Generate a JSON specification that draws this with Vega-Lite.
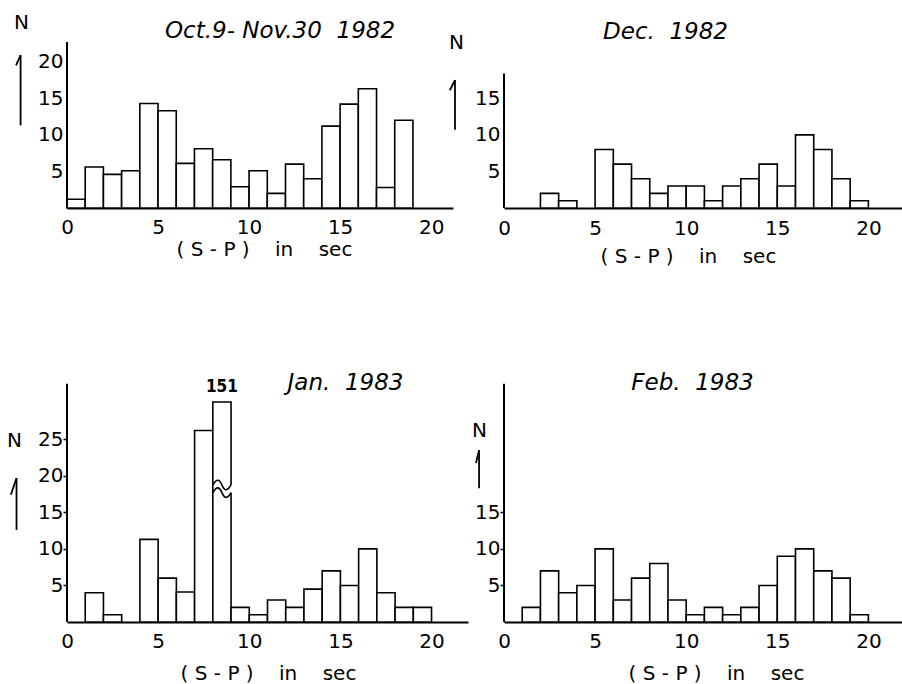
{
  "$schema": "https://vega.github.io/schema/vega-lite/v6.json",
  "background": "white",
  "padding": {"left": 6, "top": 12, "right": 2, "bottom": 2},
  "datasets": {
    "p1": [
      {"lo": 0, "hi": 1, "n": 1.2}, {"lo": 1, "hi": 2, "n": 5.6}, {"lo": 2, "hi": 3, "n": 4.6},
      {"lo": 3, "hi": 4, "n": 5.1}, {"lo": 4, "hi": 5, "n": 14.3}, {"lo": 5, "hi": 6, "n": 13.3},
      {"lo": 6, "hi": 7, "n": 6.1}, {"lo": 7, "hi": 8, "n": 8.1}, {"lo": 8, "hi": 9, "n": 6.6},
      {"lo": 9, "hi": 10, "n": 2.9}, {"lo": 10, "hi": 11, "n": 5.1}, {"lo": 11, "hi": 12, "n": 2.0},
      {"lo": 12, "hi": 13, "n": 6.0}, {"lo": 13, "hi": 14, "n": 4.0}, {"lo": 14, "hi": 15, "n": 11.2},
      {"lo": 15, "hi": 16, "n": 14.2}, {"lo": 16, "hi": 17, "n": 16.3}, {"lo": 17, "hi": 18, "n": 2.8},
      {"lo": 18, "hi": 19, "n": 12.0}
    ],
    "p2": [
      {"lo": 2, "hi": 3, "n": 2}, {"lo": 3, "hi": 4, "n": 1}, {"lo": 5, "hi": 6, "n": 8},
      {"lo": 6, "hi": 7, "n": 6}, {"lo": 7, "hi": 8, "n": 4}, {"lo": 8, "hi": 9, "n": 2},
      {"lo": 9, "hi": 10, "n": 3}, {"lo": 10, "hi": 11, "n": 3}, {"lo": 11, "hi": 12, "n": 1},
      {"lo": 12, "hi": 13, "n": 3}, {"lo": 13, "hi": 14, "n": 4}, {"lo": 14, "hi": 15, "n": 6},
      {"lo": 15, "hi": 16, "n": 3}, {"lo": 16, "hi": 17, "n": 10}, {"lo": 17, "hi": 18, "n": 8},
      {"lo": 18, "hi": 19, "n": 4}, {"lo": 19, "hi": 20, "n": 1}
    ],
    "p3": [
      {"lo": 1, "hi": 2, "n": 4}, {"lo": 2, "hi": 3, "n": 1}, {"lo": 4, "hi": 5, "n": 11.3},
      {"lo": 5, "hi": 6, "n": 6}, {"lo": 6, "hi": 7, "n": 4.1}, {"lo": 7, "hi": 8, "n": 26.2},
      {"lo": 8, "hi": 9, "n": 151}, {"lo": 9, "hi": 10, "n": 2}, {"lo": 10, "hi": 11, "n": 1},
      {"lo": 11, "hi": 12, "n": 3}, {"lo": 12, "hi": 13, "n": 2}, {"lo": 13, "hi": 14, "n": 4.5},
      {"lo": 14, "hi": 15, "n": 7}, {"lo": 15, "hi": 16, "n": 5}, {"lo": 16, "hi": 17, "n": 10},
      {"lo": 17, "hi": 18, "n": 4}, {"lo": 18, "hi": 19, "n": 2}, {"lo": 19, "hi": 20, "n": 2}
    ],
    "p4": [
      {"lo": 1, "hi": 2, "n": 2}, {"lo": 2, "hi": 3, "n": 7}, {"lo": 3, "hi": 4, "n": 4},
      {"lo": 4, "hi": 5, "n": 5}, {"lo": 5, "hi": 6, "n": 10}, {"lo": 6, "hi": 7, "n": 3},
      {"lo": 7, "hi": 8, "n": 6}, {"lo": 8, "hi": 9, "n": 8}, {"lo": 9, "hi": 10, "n": 3},
      {"lo": 10, "hi": 11, "n": 1}, {"lo": 11, "hi": 12, "n": 2}, {"lo": 12, "hi": 13, "n": 1},
      {"lo": 13, "hi": 14, "n": 2}, {"lo": 14, "hi": 15, "n": 5}, {"lo": 15, "hi": 16, "n": 9},
      {"lo": 16, "hi": 17, "n": 10}, {"lo": 17, "hi": 18, "n": 7}, {"lo": 18, "hi": 19, "n": 6},
      {"lo": 19, "hi": 20, "n": 1}
    ]
  },
  "columns": 2,
  "bounds": "flush",
  "align": "each",
  "spacing": {"row": 194, "column": 36},
  "concat": [
    {
      "width": 386, "height": 166,
      "title": {"text": "Oct.9- Nov.30\u00a0\u00a01982", "fontStyle": "italic", "fontSize": 23, "fontWeight": "normal", "anchor": "middle", "frame": "group", "baseline": "middle", "offset": 0, "dx": 20, "dy": 42},
      "layer": [
        {
          "data": {"name": "p1"},
          "mark": {"type": "rect", "fill": "white", "stroke": "black", "strokeWidth": 1.6},
          "encoding": {
            "x": {"field": "lo", "type": "quantitative", "scale": {"domain": [0, 21.2], "nice": false, "zero": false},
              "axis": {"values": [0, 5, 10, 15, 20], "domainColor": "black", "domainWidth": 2, "ticks": false, "grid": false, "labelFontSize": 20, "labelPadding": 9, "labelFlush": false, "labelOverlap": false, "labelColor": "black", "title": "(\u00a0S\u00a0-\u00a0P\u00a0)\u00a0\u00a0\u00a0\u00a0in\u00a0\u00a0\u00a0\u00a0sec", "titleFontSize": 20, "titleFontWeight": "normal", "titleColor": "black", "titleX": 197, "titleY": 41, "titleAlign": "center", "titleBaseline": "middle"}},
            "x2": {"field": "hi"},
            "y": {"field": "n", "type": "quantitative", "scale": {"domain": [0, 22.7], "nice": false},
              "axis": {"values": [5, 10, 15, 20], "domain": false, "ticks": false, "grid": false, "labelFontSize": 20, "labelPadding": 4, "labelColor": "black", "title": "N", "titleAngle": 0, "titleX": -46, "titleY": -20, "titleAlign": "center", "titleBaseline": "middle", "titleFontSize": 20, "titleFontWeight": "normal", "titleColor": "black"}},
            "y2": {"datum": 0}
          }
        },
        {"data": {"values": [{}]}, "mark": {"type": "rule", "stroke": "black", "strokeWidth": 2},
          "encoding": {"x": {"datum": 0}, "y": {"datum": 0}, "y2": {"datum": 22.7}}},
        {"data": {"values": [{}]}, "mark": {"type": "rule", "stroke": "black", "strokeWidth": 1.8},
          "encoding": {"x": {"datum": -2.55}, "y": {"datum": 11.3}, "y2": {"datum": 20.9}}},
        {"data": {"values": [{}]}, "mark": {"type": "rule", "stroke": "black", "strokeWidth": 1.8},
          "encoding": {"x": {"datum": -2.55}, "x2": {"datum": -2.8}, "y": {"datum": 20.9}, "y2": {"datum": 19.5}}}
      ]
    },
    {
      "width": 399, "height": 166,
      "title": {"text": "Dec.\u00a0\u00a01982", "fontStyle": "italic", "fontSize": 23, "fontWeight": "normal", "anchor": "middle", "frame": "group", "baseline": "middle", "offset": 0, "dx": -38, "dy": 23},
      "layer": [
        {
          "data": {"name": "p2"},
          "mark": {"type": "rect", "fill": "white", "stroke": "black", "strokeWidth": 1.6},
          "encoding": {
            "x": {"field": "lo", "type": "quantitative", "scale": {"domain": [0, 21.9], "nice": false, "zero": false},
              "axis": {"values": [0, 5, 10, 15, 20], "domainColor": "black", "domainWidth": 2, "ticks": false, "grid": false, "labelFontSize": 20, "labelPadding": 10, "labelFlush": false, "labelOverlap": false, "labelColor": "black", "title": "(\u00a0S\u00a0-\u00a0P\u00a0)\u00a0\u00a0\u00a0\u00a0in\u00a0\u00a0\u00a0\u00a0sec", "titleFontSize": 20, "titleFontWeight": "normal", "titleColor": "black", "titleX": 184, "titleY": 48, "titleAlign": "center", "titleBaseline": "middle"}},
            "x2": {"field": "hi"},
            "y": {"field": "n", "type": "quantitative", "scale": {"domain": [0, 22.7], "nice": false},
              "axis": {"values": [5, 10, 15], "domain": false, "ticks": false, "grid": false, "labelFontSize": 20, "labelPadding": 4, "labelColor": "black", "title": "N", "titleAngle": 0, "titleX": -48, "titleY": 0, "titleAlign": "center", "titleBaseline": "middle", "titleFontSize": 20, "titleFontWeight": "normal", "titleColor": "black"}},
            "y2": {"datum": 0}
          }
        },
        {"data": {"values": [{}]}, "mark": {"type": "rule", "stroke": "black", "strokeWidth": 2},
          "encoding": {"x": {"datum": 0}, "y": {"datum": 0}, "y2": {"datum": 18.4}}},
        {"data": {"values": [{}]}, "mark": {"type": "rule", "stroke": "black", "strokeWidth": 1.8},
          "encoding": {"x": {"datum": -2.69}, "y": {"datum": 10.7}, "y2": {"datum": 17.5}}},
        {"data": {"values": [{}]}, "mark": {"type": "rule", "stroke": "black", "strokeWidth": 1.8},
          "encoding": {"x": {"datum": -2.69}, "x2": {"datum": -2.97}, "y": {"datum": 17.5}, "y2": {"datum": 16.1}}}
      ]
    },
    {
      "width": 401, "height": 220,
      "title": {"text": "Jan.\u00a0\u00a01983", "fontStyle": "italic", "fontSize": 23, "fontWeight": "normal", "anchor": "middle", "frame": "group", "baseline": "middle", "offset": 0, "dx": 78, "dy": 28},
      "resolve": {"scale": {"y": "independent"}},
      "layer": [
        {
          "data": {"name": "p3"},
          "mark": {"type": "rect", "fill": "white", "stroke": "black", "strokeWidth": 1.6},
          "encoding": {
            "x": {"field": "lo", "type": "quantitative", "scale": {"domain": [0, 22.0], "nice": false, "zero": false},
              "axis": {"values": [0, 5, 10, 15, 20], "domainColor": "black", "domainWidth": 2, "ticks": false, "grid": false, "labelFontSize": 20, "labelPadding": 9, "labelFlush": false, "labelOverlap": false, "labelColor": "black", "title": "(\u00a0S\u00a0-\u00a0P\u00a0)\u00a0\u00a0\u00a0\u00a0in\u00a0\u00a0\u00a0\u00a0sec", "titleFontSize": 20, "titleFontWeight": "normal", "titleColor": "black", "titleX": 201, "titleY": 51, "titleAlign": "center", "titleBaseline": "middle"}},
            "x2": {"field": "hi"},
            "y": {"field": "n", "type": "quantitative", "scale": {"domain": [0, 30.1], "nice": false, "clamp": true},
              "axis": {"values": [5, 10, 15, 20, 25], "domain": false, "ticks": true, "tickSize": 4, "tickColor": "black", "tickWidth": 1.5, "grid": false, "labelFontSize": 20, "labelPadding": 0, "labelColor": "black", "title": "N", "titleAngle": 0, "titleX": -53, "titleY": 38, "titleAlign": "center", "titleBaseline": "middle", "titleFontSize": 20, "titleFontWeight": "normal", "titleColor": "black"}},
            "y2": {"datum": 0}
          }
        },
        {"data": {"values": [{}]}, "mark": {"type": "rect", "fill": "white", "stroke": null},
          "encoding": {"x": {"datum": 8.06}, "x2": {"datum": 9.08}, "y": {"datum": 17.7, "scale": {"domain": [0, 30.1], "nice": false}, "axis": null}, "y2": {"datum": 18.75}}},
        {"data": {"values": [{}]}, "mark": {"type": "point", "shape": "M -1 0 C -0.6 -0.7 -0.3 -0.7 0 0 C 0.3 0.7 0.6 0.7 1 0", "filled": false, "stroke": "black", "strokeWidth": 1.6, "size": 330, "opacity": 1},
          "encoding": {"x": {"datum": 8.5}, "y": {"datum": 18.75, "scale": {"domain": [0, 30.1], "nice": false}, "axis": null}}},
        {"data": {"values": [{}]}, "mark": {"type": "point", "shape": "M -1 0 C -0.6 -0.7 -0.3 -0.7 0 0 C 0.3 0.7 0.6 0.7 1 0", "filled": false, "stroke": "black", "strokeWidth": 1.6, "size": 330, "opacity": 1},
          "encoding": {"x": {"datum": 8.5}, "y": {"datum": 17.7, "scale": {"domain": [0, 30.1], "nice": false}, "axis": null}}},
        {"data": {"name": "p3"}, "transform": [{"filter": "datum.n > 100"}],
          "mark": {"type": "text", "font": "DejaVu Sans Condensed", "fontWeight": "bold", "fontSize": 17, "baseline": "middle", "align": "center", "dy": -15},
          "encoding": {"x": {"datum": 8.5}, "y": {"field": "n", "type": "quantitative", "scale": {"domain": [0, 30.1], "nice": false, "clamp": true}, "axis": null}, "text": {"field": "n", "type": "quantitative"}}},
        {"data": {"values": [{}]}, "mark": {"type": "rule", "stroke": "black", "strokeWidth": 2},
          "encoding": {"x": {"datum": 0}, "y": {"datum": 0, "scale": {"domain": [0, 30.1], "nice": false}, "axis": null}, "y2": {"datum": 32.6}}},
        {"data": {"values": [{}]}, "mark": {"type": "rule", "stroke": "black", "strokeWidth": 1.8},
          "encoding": {"x": {"datum": -2.77}, "y": {"datum": 12.6, "scale": {"domain": [0, 30.1], "nice": false}, "axis": null}, "y2": {"datum": 19.7}}},
        {"data": {"values": [{}]}, "mark": {"type": "rule", "stroke": "black", "strokeWidth": 1.8},
          "encoding": {"x": {"datum": -2.77}, "x2": {"datum": -3.08}, "y": {"datum": 19.7, "scale": {"domain": [0, 30.1], "nice": false}, "axis": null}, "y2": {"datum": 17.4}}}
      ]
    },
    {
      "width": 399, "height": 220,
      "title": {"text": "Feb.\u00a0\u00a01983", "fontStyle": "italic", "fontSize": 23, "fontWeight": "normal", "anchor": "middle", "frame": "group", "baseline": "middle", "offset": 0, "dx": -11, "dy": 23},
      "layer": [
        {
          "data": {"name": "p4"},
          "mark": {"type": "rect", "fill": "white", "stroke": "black", "strokeWidth": 1.6},
          "encoding": {
            "x": {"field": "lo", "type": "quantitative", "scale": {"domain": [0, 21.9], "nice": false, "zero": false},
              "axis": {"values": [0, 5, 10, 15, 20], "domainColor": "black", "domainWidth": 2, "ticks": false, "grid": false, "labelFontSize": 20, "labelPadding": 9, "labelFlush": false, "labelOverlap": false, "labelColor": "black", "title": "(\u00a0S\u00a0-\u00a0P\u00a0)\u00a0\u00a0\u00a0\u00a0in\u00a0\u00a0\u00a0\u00a0sec", "titleFontSize": 20, "titleFontWeight": "normal", "titleColor": "black", "titleX": 212, "titleY": 51, "titleAlign": "center", "titleBaseline": "middle"}},
            "x2": {"field": "hi"},
            "y": {"field": "n", "type": "quantitative", "scale": {"domain": [0, 30.1], "nice": false},
              "axis": {"values": [5, 10, 15], "domain": false, "ticks": true, "tickSize": 4, "tickColor": "black", "tickWidth": 1.5, "grid": false, "labelFontSize": 20, "labelPadding": 0, "labelColor": "black", "title": "N", "titleAngle": 0, "titleX": -25, "titleY": 28, "titleAlign": "center", "titleBaseline": "middle", "titleFontSize": 20, "titleFontWeight": "normal", "titleColor": "black"}},
            "y2": {"datum": 0}
          }
        },
        {"data": {"values": [{}]}, "mark": {"type": "rule", "stroke": "black", "strokeWidth": 2},
          "encoding": {"x": {"datum": 0}, "y": {"datum": 0}, "y2": {"datum": 32.6}}},
        {"data": {"values": [{}]}, "mark": {"type": "rule", "stroke": "black", "strokeWidth": 1.8},
          "encoding": {"x": {"datum": -1.37}, "y": {"datum": 18.3}, "y2": {"datum": 23.5}}},
        {"data": {"values": [{}]}, "mark": {"type": "rule", "stroke": "black", "strokeWidth": 1.8},
          "encoding": {"x": {"datum": -1.37}, "x2": {"datum": -1.54}, "y": {"datum": 23.5}, "y2": {"datum": 21.75}}}
      ]
    }
  ],
  "config": {
    "view": {"stroke": null},
    "font": "DejaVu Sans",
    "axis": {"labelFont": "DejaVu Sans", "titleFont": "DejaVu Sans"},
    "title": {"font": "DejaVu Sans", "color": "black"},
    "text": {"font": "DejaVu Sans", "color": "black"}
  }
}
